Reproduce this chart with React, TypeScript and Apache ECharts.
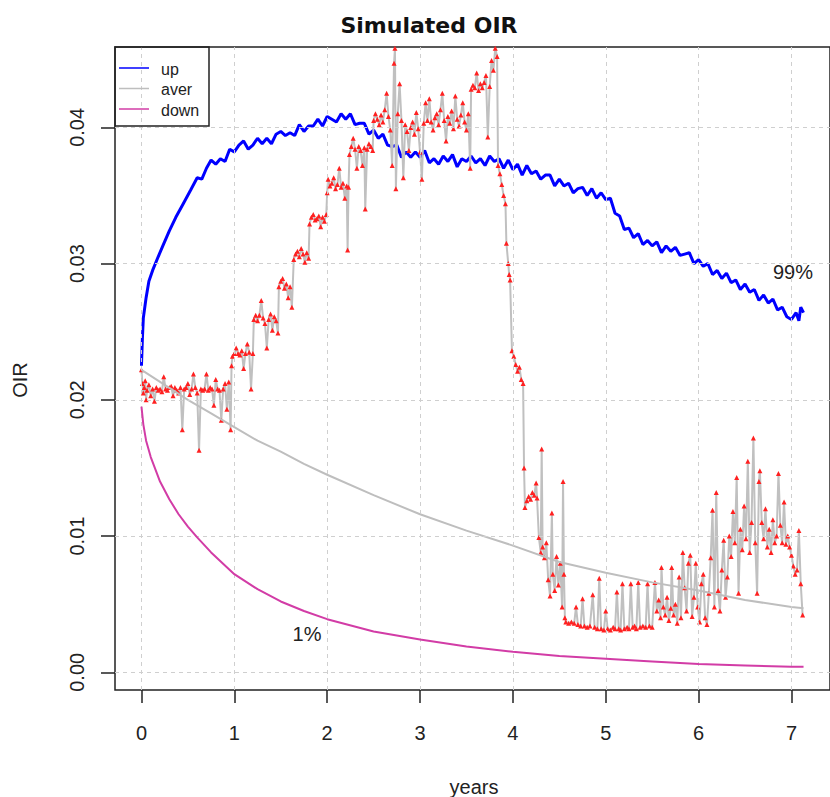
import React, { useEffect, useRef } from "react";
import * as echarts from "echarts";

// ---- data ----
const xTicks = [0, 1, 2, 3, 4, 5, 6, 7];
const yTicks = [0, 0.01, 0.02, 0.03, 0.04];

const upT = [0, 0.01, 0.02, 0.05, 0.08, 0.12, 0.18, 0.23, 0.3, 0.37, 0.45, 0.53,
  0.6, 0.65, 0.7, 0.75, 0.8, 0.85, 0.9, 0.95, 1.0, 1.05, 1.1, 1.15, 1.2, 1.25, 1.3, 1.35, 1.4, 1.45, 1.5, 1.55, 1.6, 1.65, 1.7, 1.75, 1.8, 1.85, 1.9, 1.95,
  2.0, 2.05, 2.1, 2.15, 2.2, 2.25, 2.3, 2.35, 2.4, 2.45, 2.5, 2.55, 2.6, 2.65, 2.7, 2.75, 2.8, 2.85, 2.9, 2.95,
  3.0, 3.05, 3.1, 3.15, 3.2, 3.25, 3.3, 3.35, 3.4, 3.45, 3.5, 3.55, 3.6, 3.65, 3.7, 3.75, 3.8, 3.85, 3.9, 3.95,
  4.0, 4.05, 4.1, 4.15, 4.2, 4.25, 4.3, 4.35, 4.4, 4.45, 4.5, 4.55, 4.6, 4.65, 4.7, 4.75, 4.8, 4.85, 4.9, 4.95,
  5.0, 5.05, 5.1, 5.15, 5.2, 5.25, 5.3, 5.35, 5.4, 5.45, 5.5, 5.55, 5.6, 5.65, 5.7, 5.75, 5.8, 5.85, 5.9, 5.95,
  6.0, 6.05, 6.1, 6.15, 6.2, 6.25, 6.3, 6.35, 6.4, 6.45, 6.5, 6.55, 6.6, 6.65, 6.7, 6.75, 6.8, 6.85, 6.9, 6.95,
  7.0, 7.05, 7.08, 7.1, 7.13];
const upV = [0.0225, 0.0245, 0.026, 0.0275, 0.0287, 0.0295, 0.0305, 0.0313, 0.0324, 0.0334, 0.0344, 0.0354,
  0.0363, 0.0362, 0.037, 0.0376, 0.0373, 0.0377, 0.0375, 0.0384, 0.0382, 0.0387, 0.039, 0.0384, 0.0387, 0.0392, 0.0388, 0.0392, 0.0388, 0.0395, 0.0397, 0.0394, 0.0396, 0.0394, 0.0402, 0.0397, 0.0401, 0.0401, 0.0406, 0.0401,
  0.0408, 0.0406, 0.0404, 0.041, 0.0406, 0.041, 0.0402, 0.0403, 0.0403, 0.0395, 0.0398, 0.0392, 0.0395, 0.0387, 0.0386, 0.0387, 0.0378, 0.0382, 0.0378, 0.0382,
  0.0378, 0.0383, 0.0374, 0.0377, 0.0373, 0.0379, 0.0375, 0.038, 0.0371, 0.0377, 0.0375, 0.0379, 0.0374, 0.0377, 0.0372, 0.0379, 0.0375, 0.0377, 0.037, 0.0376,
  0.0369, 0.0373, 0.0365, 0.0372, 0.0366, 0.0368, 0.0362, 0.0365, 0.0365, 0.0357, 0.0362, 0.0357, 0.0359, 0.0352, 0.0355, 0.0356, 0.035, 0.0355, 0.0348, 0.0352,
  0.0347, 0.0348, 0.0337, 0.0335, 0.0325, 0.0326, 0.0319, 0.0322, 0.0314, 0.0317, 0.0313, 0.0316, 0.0308, 0.0313, 0.0309, 0.0312, 0.0306, 0.0307, 0.0308, 0.03,
  0.0303, 0.0298, 0.03, 0.0292, 0.0295, 0.0289, 0.0293, 0.0286, 0.0288, 0.0281, 0.0285, 0.0279, 0.0281, 0.0273, 0.0277, 0.0271, 0.0274, 0.0266, 0.0268, 0.0261,
  0.0259, 0.0264, 0.0258, 0.0268, 0.0264];

const averT = [0, 0.25, 0.5, 0.75, 1.0, 1.25, 1.5, 1.75, 2.0, 2.5, 3.0, 3.5, 4.0, 4.5, 5.0, 5.5, 6.0, 6.5, 7.0, 7.13];
const averV = [0.0222, 0.0211, 0.02, 0.019, 0.018, 0.017, 0.0162, 0.0153, 0.0145, 0.013, 0.0116, 0.0104, 0.0093, 0.0081, 0.0073, 0.0066, 0.006, 0.0053, 0.0048, 0.0047];

const downT = [0, 0.02, 0.05, 0.1, 0.2, 0.3, 0.4, 0.5, 0.6, 0.75, 1.0, 1.25, 1.5, 1.75, 2.0, 2.5, 3.0, 3.5, 4.0, 4.5, 5.0, 5.5, 6.0, 6.5, 7.0, 7.13];
const downV = [0.0195, 0.0182, 0.017, 0.0158, 0.014, 0.0127, 0.0116, 0.0107, 0.0099, 0.0088, 0.0072, 0.0061, 0.0052, 0.0045, 0.0039, 0.003, 0.0024, 0.0019, 0.0015, 0.0012, 0.001, 0.0008, 0.0006, 0.0005, 0.0004, 0.0004];

const simPath: [number, number][] = [
  [0.0, 0.0222], [0.01, 0.0212], [0.02, 0.0205], [0.03, 0.0209], [0.04, 0.0214], [0.05, 0.02], [0.06, 0.0207], [0.08, 0.0211], [0.1, 0.0203], [0.12, 0.0208], [0.14, 0.0199], [0.16, 0.0209], [0.18, 0.0207], [0.2, 0.0208], [0.22, 0.0206], [0.24, 0.0217], [0.26, 0.0208], [0.28, 0.0207], [0.3, 0.0209], [0.32, 0.021], [0.34, 0.0203], [0.36, 0.0209], [0.38, 0.0207], [0.4, 0.0205], [0.42, 0.0209], [0.44, 0.0178], [0.46, 0.0208], [0.48, 0.0209], [0.5, 0.0212], [0.52, 0.0204], [0.54, 0.0208], [0.56, 0.0219], [0.58, 0.0209], [0.6, 0.0205], [0.62, 0.0163], [0.64, 0.0208], [0.66, 0.0207], [0.68, 0.0208], [0.7, 0.0219], [0.72, 0.0207], [0.74, 0.0209], [0.76, 0.0208], [0.78, 0.0196], [0.8, 0.0215], [0.82, 0.0208], [0.84, 0.0207], [0.86, 0.0185], [0.88, 0.0208], [0.9, 0.0212], [0.92, 0.0193], [0.94, 0.0213], [0.96, 0.0178],
  [0.97, 0.0225], [0.98, 0.0232], [1.0, 0.0234], [1.02, 0.0238], [1.04, 0.0234], [1.06, 0.0233], [1.08, 0.0236], [1.1, 0.0223], [1.12, 0.0234], [1.14, 0.0241], [1.16, 0.0235], [1.18, 0.0208], [1.2, 0.0234],
  [1.21, 0.0259], [1.23, 0.0262], [1.25, 0.0258], [1.27, 0.0262], [1.29, 0.0273], [1.31, 0.026], [1.33, 0.0256], [1.35, 0.0238], [1.37, 0.0259], [1.39, 0.0263], [1.41, 0.0251], [1.43, 0.0261], [1.45, 0.0258], [1.47, 0.0249],
  [1.48, 0.0283], [1.5, 0.0287], [1.52, 0.0289], [1.54, 0.0282], [1.56, 0.0285], [1.58, 0.0275], [1.6, 0.0283], [1.62, 0.0268],
  [1.64, 0.0303], [1.66, 0.0307], [1.68, 0.0309], [1.7, 0.0305], [1.72, 0.0311], [1.74, 0.0307], [1.76, 0.0301], [1.78, 0.0308], [1.8, 0.0304],
  [1.81, 0.0329], [1.83, 0.0334], [1.85, 0.0336], [1.87, 0.0332], [1.89, 0.0333], [1.91, 0.0335], [1.93, 0.0327], [1.95, 0.0334], [1.97, 0.0331], [1.99, 0.0336],
  [2.0, 0.0352], [2.01, 0.0362], [2.03, 0.0357], [2.05, 0.0359], [2.07, 0.0363], [2.09, 0.0355], [2.11, 0.0358], [2.13, 0.037], [2.15, 0.0356], [2.17, 0.0359], [2.19, 0.0348], [2.21, 0.0357], [2.22, 0.031], [2.23, 0.0356],
  [2.24, 0.038], [2.26, 0.0386], [2.28, 0.0392], [2.3, 0.0384], [2.32, 0.037], [2.34, 0.0386], [2.36, 0.0383], [2.38, 0.0372], [2.4, 0.0385], [2.41, 0.034], [2.43, 0.0384], [2.45, 0.0388], [2.47, 0.0386], [2.49, 0.0383],
  [2.5, 0.0405], [2.52, 0.041], [2.54, 0.0406], [2.56, 0.0402], [2.58, 0.0409], [2.6, 0.0404], [2.62, 0.0413], [2.64, 0.0425], [2.66, 0.0408], [2.68, 0.0398], [2.7, 0.0372], [2.72, 0.0447], [2.73, 0.0458], [2.74, 0.0355], [2.76, 0.041], [2.78, 0.0432], [2.8, 0.0405], [2.82, 0.0363],
  [2.84, 0.0402], [2.86, 0.0397], [2.88, 0.0383], [2.9, 0.04], [2.92, 0.0404], [2.94, 0.0395], [2.96, 0.0411], [2.98, 0.0399], [3.0, 0.0382], [3.02, 0.0362], [3.04, 0.0403], [3.06, 0.0418], [3.08, 0.0405],
  [3.1, 0.0421], [3.12, 0.0404], [3.14, 0.0398], [3.16, 0.0407], [3.18, 0.041], [3.2, 0.0402], [3.22, 0.0413], [3.24, 0.0425], [3.26, 0.0405], [3.28, 0.039], [3.3, 0.0408], [3.32, 0.0403], [3.34, 0.0412], [3.36, 0.0399], [3.38, 0.0423], [3.4, 0.0406], [3.42, 0.0401], [3.44, 0.0409], [3.46, 0.0418], [3.48, 0.0404], [3.5, 0.0398], [3.52, 0.041], [3.54, 0.037],
  [3.55, 0.0428], [3.57, 0.0431], [3.59, 0.0429], [3.61, 0.044], [3.63, 0.0427], [3.65, 0.0432], [3.67, 0.0429], [3.69, 0.0433], [3.71, 0.0438], [3.73, 0.0393], [3.75, 0.043], [3.77, 0.0449], [3.79, 0.0442], [3.81, 0.0458], [3.83, 0.0452],
  [3.84, 0.0372], [3.86, 0.0366], [3.88, 0.0358], [3.9, 0.035], [3.92, 0.0344], [3.93, 0.0315], [3.95, 0.03], [3.96, 0.0292], [3.97, 0.0288],
  [3.99, 0.0236], [4.01, 0.0232], [4.03, 0.0226], [4.05, 0.0221], [4.07, 0.0224], [4.09, 0.0215], [4.11, 0.0212], [4.12, 0.015],
  [4.13, 0.0121], [4.15, 0.0126], [4.17, 0.0129], [4.19, 0.0127], [4.21, 0.0132], [4.23, 0.013], [4.25, 0.0139], [4.26, 0.0128], [4.28, 0.0099], [4.3, 0.0088], [4.31, 0.0164], [4.32, 0.0092], [4.34, 0.0084], [4.36, 0.0095], [4.38, 0.0068], [4.4, 0.0056], [4.42, 0.0117], [4.43, 0.0072], [4.45, 0.006], [4.47, 0.0085], [4.49, 0.0064], [4.51, 0.008], [4.53, 0.0048], [4.54, 0.014], [4.55, 0.0072], [4.56, 0.004],
  [4.57, 0.0037], [4.6, 0.0036], [4.63, 0.0037], [4.66, 0.0036], [4.68, 0.0048], [4.7, 0.0035], [4.73, 0.0034], [4.75, 0.0054], [4.77, 0.0034], [4.8, 0.0033], [4.83, 0.0034], [4.86, 0.0057], [4.88, 0.0033], [4.91, 0.0032], [4.93, 0.0069], [4.95, 0.0032], [4.98, 0.0031], [5.0, 0.0045], [5.02, 0.0032], [5.05, 0.0031], [5.08, 0.0033], [5.1, 0.0032], [5.12, 0.0059], [5.14, 0.0032], [5.16, 0.0031], [5.18, 0.0065], [5.2, 0.0032], [5.23, 0.0033], [5.25, 0.0032], [5.27, 0.0065], [5.29, 0.0033], [5.31, 0.0034], [5.33, 0.0032], [5.35, 0.0066], [5.37, 0.0033], [5.4, 0.0034], [5.43, 0.0033], [5.45, 0.0065], [5.47, 0.0034], [5.5, 0.0033], [5.53, 0.0066], [5.55, 0.0045], [5.57, 0.0053], [5.59, 0.004], [5.6, 0.0077], [5.62, 0.0048], [5.64, 0.0042], [5.66, 0.0055], [5.68, 0.0038], [5.7, 0.0047], [5.71, 0.0077], [5.73, 0.0042], [5.75, 0.005], [5.77, 0.0036], [5.79, 0.007], [5.81, 0.004], [5.83, 0.0088], [5.85, 0.0062], [5.87, 0.0045], [5.89, 0.008], [5.91, 0.0086], [5.93, 0.0041], [5.95, 0.0055], [5.97, 0.008], [5.99, 0.0048], [6.01, 0.0037], [6.03, 0.0065], [6.05, 0.0072], [6.07, 0.004], [6.09, 0.0035], [6.11, 0.0058], [6.13, 0.0084], [6.15, 0.0119], [6.17, 0.0048], [6.19, 0.0132], [6.21, 0.006], [6.23, 0.0045], [6.25, 0.0075], [6.27, 0.0097], [6.29, 0.0055], [6.31, 0.007], [6.33, 0.01], [6.35, 0.0085], [6.37, 0.0118], [6.39, 0.0095], [6.41, 0.0143], [6.43, 0.0058], [6.45, 0.0105], [6.47, 0.009], [6.49, 0.0122], [6.51, 0.0098], [6.53, 0.0155], [6.55, 0.0088], [6.57, 0.011], [6.59, 0.0172], [6.61, 0.0095], [6.63, 0.0058], [6.65, 0.014], [6.66, 0.0148], [6.68, 0.011], [6.7, 0.0098], [6.72, 0.012], [6.74, 0.0092], [6.76, 0.0105], [6.78, 0.0088], [6.8, 0.0112], [6.82, 0.0095], [6.84, 0.01], [6.86, 0.0146], [6.88, 0.0108], [6.9, 0.0095], [6.92, 0.0125], [6.94, 0.0094], [6.96, 0.01], [6.98, 0.0092], [7.0, 0.0086], [7.02, 0.0078], [7.04, 0.0072], [7.06, 0.0075], [7.08, 0.0104], [7.1, 0.0065], [7.12, 0.0042],
];

const legendNames = ["up", "aver", "down"];
const colors = { up: "#0000ff", aver: "#bebebe", down: "#d23ca6", marker: "#ff2020" };

const zip = (t: number[], v: number[]) => t.map((x, i) => [x, v[i]]);

const FONT = "'Liberation Sans', Arial, sans-serif";

export default function App() {
  const ref = useRef<HTMLDivElement>(null);
  useEffect(() => {
    if (!ref.current) return;
    const chart = echarts.init(ref.current, null, { renderer: "svg" });
    const gridLineStyle = { color: "#cfcfcf", width: 1, type: [4, 4] as any };
    const option: any = {
      animation: false,
      backgroundColor: "#ffffff",
      grid: { left: 115, top: 47, right: -7, bottom: 107, show: true, borderColor: "#222", borderWidth: 1.5, backgroundColor: "transparent" },
      xAxis: {
        type: "value", min: -0.285, max: 7.415,
        axisLine: { show: false, onZero: false },
        splitLine: { show: false },
        axisTick: { show: true, customValues: xTicks, length: 13, lineStyle: { color: "#222", width: 1.5 } },
        axisLabel: { customValues: xTicks, fontSize: 20, margin: 33, color: "#222", fontFamily: FONT, formatter: (v: number) => String(v) },
      },
      yAxis: {
        type: "value", min: -0.0013, max: 0.0459,
        axisLine: { show: false, onZero: false },
        splitLine: { show: false },
        axisTick: { show: true, customValues: yTicks, length: 14, lineStyle: { color: "#222", width: 1.5 } },
        axisLabel: { customValues: yTicks, fontSize: 20, margin: 28, rotate: 90, color: "#222", fontFamily: FONT, formatter: (v: number) => v.toFixed(2) },
      },
      series: [
        {
          type: "line", data: [], z: 0, silent: true,
          markLine: {
            silent: true, symbol: ["none", "none"], label: { show: false }, lineStyle: gridLineStyle,
            data: [...xTicks.map((x) => ({ xAxis: x })), ...yTicks.map((y) => ({ yAxis: y }))],
          },
        },
        { name: "up", type: "line", data: zip(upT, upV), showSymbol: false, lineStyle: { color: colors.up, width: 3 }, z: 2 },
        {
          name: "sim", type: "line", data: simPath, showSymbol: true, showAllSymbol: true,
          symbol: "triangle", symbolSize: 5, itemStyle: { color: colors.marker },
          lineStyle: { color: "#c0c0c0", width: 2 }, z: 3,
        },
        { name: "aver", type: "line", data: zip(averT, averV), showSymbol: false, lineStyle: { color: colors.aver, width: 2 }, z: 4 },
        { name: "down", type: "line", data: zip(downT, downV), showSymbol: false, lineStyle: { color: colors.down, width: 2 }, z: 5 },
      ],
      graphic: [
        { type: "text", x: 429, y: 25, style: { text: "Simulated OIR", font: "bold 22px 'DejaVu Sans', sans-serif", fill: "#111", align: "center", verticalAlign: "middle" } },
        { type: "text", x: 474, y: 787, style: { text: "years", font: `20px ${FONT}`, fill: "#222", align: "center", verticalAlign: "middle" } },
        { type: "text", x: 20, y: 380, rotation: Math.PI / 2, style: { text: "OIR", font: `20px ${FONT}`, fill: "#222", align: "center", verticalAlign: "middle" } },
        { type: "text", x: 793, y: 272, style: { text: "99%", font: `20px ${FONT}`, fill: "#222", align: "center", verticalAlign: "middle" } },
        { type: "text", x: 307, y: 634, style: { text: "1%", font: `20px ${FONT}`, fill: "#222", align: "center", verticalAlign: "middle" } },
        { type: "rect", shape: { x: 115, y: 47, width: 94, height: 79 }, style: { fill: "none", stroke: "#222", lineWidth: 1.5 }, z: 10 },
        ...legendNames.flatMap((n, i) => {
          const y = 68 + i * 20.5;
          return [
            { type: "line", shape: { x1: 119, y1: y, x2: 149, y2: y }, style: { stroke: (colors as any)[n], lineWidth: 1.5 }, z: 10 },
            { type: "text", x: 161, y: y + 1, style: { text: n, font: `16px ${FONT}`, fill: "#222", verticalAlign: "middle" }, z: 10 },
          ];
        }),
      ],
    };
    chart.setOption(option);
    return () => chart.dispose();
  }, []);
  return <div ref={ref} style={{ position: "absolute", left: 0, top: 0, width: 830, height: 797 }} />;
}
